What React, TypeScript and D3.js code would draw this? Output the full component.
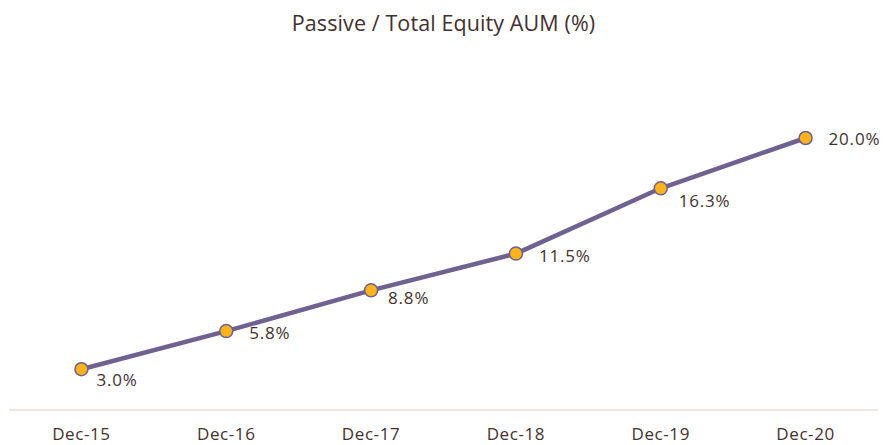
import React from "react";
import * as d3 from "d3";

const categories: string[] = ["Dec-15", "Dec-16", "Dec-17", "Dec-18", "Dec-19", "Dec-20"];
const values: number[] = [3.0, 5.8, 8.8, 11.5, 16.3, 20.0];
const valueLabels: string[] = ["3.0%", "5.8%", "8.8%", "11.5%", "16.3%", "20.0%"];
const title = "Passive / Total Equity AUM (%)";

// label offsets (layout) relative to each marker
const labelDx: number[] = [15, 23, 17, 23, 18, 23];
const labelDy: number[] = [11, 2, 8, 2, 13, 1];

const W = 884;
const H = 445;
const FONT = "'Open Sans', 'Noto Sans', sans-serif";
const TEXT = "#43302f";
const LINE = "#6f6190";
const MARKER = "#fbb31c";

export default function App() {
  const x = d3.scalePoint<string>().domain(categories).range([9, 878]).padding(0.5);
  const y = d3.scaleLinear().domain([0, 20]).range([410, 138]);
  const line = d3
    .line<number>()
    .x((_, i) => x(categories[i]) as number)
    .y((d) => y(d));

  return (
    <svg
      width={W}
      height={H}
      style={{ position: "absolute", left: 0, top: 0, background: "#fff" }}
      fontFamily={FONT}
    >
      <text x={443.5} y={31} textAnchor="middle" fontSize={21.5} fill={TEXT} letterSpacing={0.1}>
        {title}
      </text>
      <line x1={9} x2={878} y1={y(0)} y2={y(0)} stroke="#eedcdc" strokeWidth={1.5} />
      {categories.map((c) => (
        <text
          key={c}
          x={x(c)}
          y={440}
          textAnchor="middle"
          fontSize={17}
          fontWeight={500}
          letterSpacing={0.6}
          fill={TEXT}
        >
          {c}
        </text>
      ))}
      <path d={line(values) || ""} fill="none" stroke={LINE} strokeWidth={4.5} strokeLinejoin="round" />
      {values.map((v, i) => (
        <circle
          key={i}
          cx={x(categories[i])}
          cy={y(v)}
          r={6.5}
          fill={MARKER}
          stroke={LINE}
          strokeWidth={1.5}
        />
      ))}
      {values.map((v, i) => (
        <text
          key={"l" + i}
          x={(x(categories[i]) as number) + labelDx[i]}
          y={y(v) + labelDy[i]}
          dy="0.35em"
          fontSize={17}
          letterSpacing={0.8}
          fill={TEXT}
        >
          {valueLabels[i]}
        </text>
      ))}
    </svg>
  );
}
